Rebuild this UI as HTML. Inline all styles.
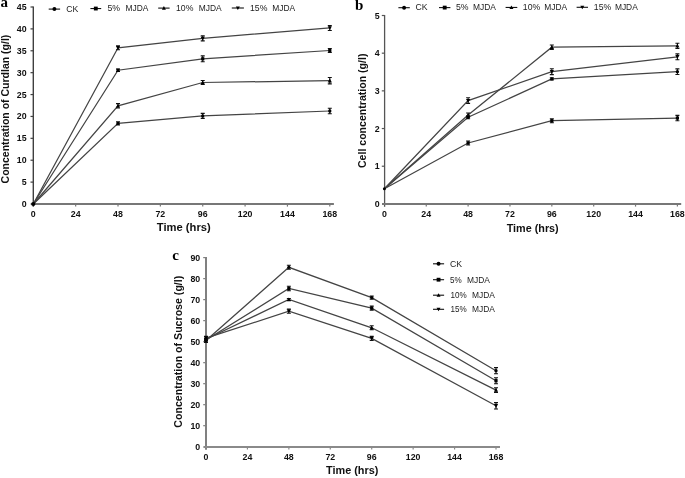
<!DOCTYPE html>
<html><head><meta charset="utf-8"><title>Figure</title>
<style>
html,body{margin:0;padding:0;background:#fff;width:685px;height:478px;overflow:hidden;font-family:"Liberation Sans",sans-serif;}
.wrap{position:relative;width:685px;height:478px;}
</style></head><body><div class="wrap">
<svg width="685" height="478" viewBox="0 0 685 478" style="position:absolute;left:0;top:0;filter:grayscale(1)">
<rect width="685" height="478" fill="#fff"/>
<path d="M33.30,6.50V206.80" stroke="#404040" stroke-width="1.4" fill="none"/>
<path d="M30.70,204.00H333.90" stroke="#777" stroke-width="2.0" fill="none"/>
<text x="26.60" y="207.00" font-family="Liberation Sans, sans-serif" font-size="8.8" font-weight="bold" text-anchor="end" fill="#111" >0</text>
<path d="M30.50,182.11H33.30" stroke="#404040" stroke-width="1.2"/>
<text x="26.60" y="185.11" font-family="Liberation Sans, sans-serif" font-size="8.8" font-weight="bold" text-anchor="end" fill="#111" >5</text>
<path d="M30.50,160.22H33.30" stroke="#404040" stroke-width="1.2"/>
<text x="26.60" y="163.22" font-family="Liberation Sans, sans-serif" font-size="8.8" font-weight="bold" text-anchor="end" fill="#111" >10</text>
<path d="M30.50,138.33H33.30" stroke="#404040" stroke-width="1.2"/>
<text x="26.60" y="141.33" font-family="Liberation Sans, sans-serif" font-size="8.8" font-weight="bold" text-anchor="end" fill="#111" >15</text>
<path d="M30.50,116.44H33.30" stroke="#404040" stroke-width="1.2"/>
<text x="26.60" y="119.44" font-family="Liberation Sans, sans-serif" font-size="8.8" font-weight="bold" text-anchor="end" fill="#111" >20</text>
<path d="M30.50,94.56H33.30" stroke="#404040" stroke-width="1.2"/>
<text x="26.60" y="97.56" font-family="Liberation Sans, sans-serif" font-size="8.8" font-weight="bold" text-anchor="end" fill="#111" >25</text>
<path d="M30.50,72.67H33.30" stroke="#404040" stroke-width="1.2"/>
<text x="26.60" y="75.67" font-family="Liberation Sans, sans-serif" font-size="8.8" font-weight="bold" text-anchor="end" fill="#111" >30</text>
<path d="M30.50,50.78H33.30" stroke="#404040" stroke-width="1.2"/>
<text x="26.60" y="53.78" font-family="Liberation Sans, sans-serif" font-size="8.8" font-weight="bold" text-anchor="end" fill="#111" >35</text>
<path d="M30.50,28.89H33.30" stroke="#404040" stroke-width="1.2"/>
<text x="26.60" y="31.89" font-family="Liberation Sans, sans-serif" font-size="8.8" font-weight="bold" text-anchor="end" fill="#111" >40</text>
<path d="M30.50,7.00H33.30" stroke="#404040" stroke-width="1.2"/>
<text x="26.60" y="10.00" font-family="Liberation Sans, sans-serif" font-size="8.8" font-weight="bold" text-anchor="end" fill="#111" >45</text>
<text x="33.30" y="217.20" font-family="Liberation Sans, sans-serif" font-size="8.8" font-weight="bold" text-anchor="middle" fill="#111" >0</text>
<path d="M75.66,204.00V206.60" stroke="#777" stroke-width="1.2"/>
<text x="75.66" y="217.20" font-family="Liberation Sans, sans-serif" font-size="8.8" font-weight="bold" text-anchor="middle" fill="#111" >24</text>
<path d="M118.01,204.00V206.60" stroke="#777" stroke-width="1.2"/>
<text x="118.01" y="217.20" font-family="Liberation Sans, sans-serif" font-size="8.8" font-weight="bold" text-anchor="middle" fill="#111" >48</text>
<path d="M160.37,204.00V206.60" stroke="#777" stroke-width="1.2"/>
<text x="160.37" y="217.20" font-family="Liberation Sans, sans-serif" font-size="8.8" font-weight="bold" text-anchor="middle" fill="#111" >72</text>
<path d="M202.73,204.00V206.60" stroke="#777" stroke-width="1.2"/>
<text x="202.73" y="217.20" font-family="Liberation Sans, sans-serif" font-size="8.8" font-weight="bold" text-anchor="middle" fill="#111" >96</text>
<path d="M245.09,204.00V206.60" stroke="#777" stroke-width="1.2"/>
<text x="245.09" y="217.20" font-family="Liberation Sans, sans-serif" font-size="8.8" font-weight="bold" text-anchor="middle" fill="#111" >120</text>
<path d="M287.44,204.00V206.60" stroke="#777" stroke-width="1.2"/>
<text x="287.44" y="217.20" font-family="Liberation Sans, sans-serif" font-size="8.8" font-weight="bold" text-anchor="middle" fill="#111" >144</text>
<path d="M329.80,204.00V206.60" stroke="#777" stroke-width="1.2"/>
<text x="329.80" y="217.20" font-family="Liberation Sans, sans-serif" font-size="8.8" font-weight="bold" text-anchor="middle" fill="#111" >168</text>
<path d="M33.30,204.00L118.01,123.40L202.73,115.90L329.80,111.00" stroke="#444" stroke-width="1.25" fill="none"/>
<path d="M33.30,204.00L118.01,105.80L202.73,82.50L329.80,80.70" stroke="#444" stroke-width="1.25" fill="none"/>
<path d="M33.30,204.00L118.01,70.25L202.73,58.80L329.80,50.50" stroke="#444" stroke-width="1.25" fill="none"/>
<path d="M33.30,204.00L118.01,47.80L202.73,38.35L329.80,27.95" stroke="#444" stroke-width="1.25" fill="none"/>
<path d="M118.01,121.90V124.90M116.01,121.90H120.01M116.01,124.90H120.01" stroke="#111" stroke-width="1.1" fill="none"/>
<circle cx="118.01" cy="123.40" r="1.65" fill="#000"/>
<path d="M202.73,113.40V118.40M200.73,113.40H204.73M200.73,118.40H204.73" stroke="#111" stroke-width="1.1" fill="none"/>
<circle cx="202.73" cy="115.90" r="1.65" fill="#000"/>
<path d="M329.80,108.20V113.80M327.80,108.20H331.80M327.80,113.80H331.80" stroke="#111" stroke-width="1.1" fill="none"/>
<circle cx="329.80" cy="111.00" r="1.65" fill="#000"/>
<path d="M118.01,103.60V108.00M116.01,103.60H120.01M116.01,108.00H120.01" stroke="#111" stroke-width="1.1" fill="none"/>
<path d="M115.91,107.48L120.11,107.48L118.01,103.70Z" fill="#000"/>
<path d="M202.73,80.50V84.50M200.73,80.50H204.73M200.73,84.50H204.73" stroke="#111" stroke-width="1.1" fill="none"/>
<path d="M200.63,84.18L204.83,84.18L202.73,80.40Z" fill="#000"/>
<path d="M329.80,77.50V83.90M327.80,77.50H331.80M327.80,83.90H331.80" stroke="#111" stroke-width="1.1" fill="none"/>
<path d="M327.70,82.38L331.90,82.38L329.80,78.60Z" fill="#000"/>
<path d="M118.01,69.05V71.45M116.01,69.05H120.01M116.01,71.45H120.01" stroke="#111" stroke-width="1.1" fill="none"/>
<rect x="116.41" y="68.65" width="3.20" height="3.20" fill="#000"/>
<path d="M202.73,55.90V61.70M200.73,55.90H204.73M200.73,61.70H204.73" stroke="#111" stroke-width="1.1" fill="none"/>
<rect x="201.13" y="57.20" width="3.20" height="3.20" fill="#000"/>
<path d="M329.80,48.50V52.50M327.80,48.50H331.80M327.80,52.50H331.80" stroke="#111" stroke-width="1.1" fill="none"/>
<rect x="328.20" y="48.90" width="3.20" height="3.20" fill="#000"/>
<path d="M118.01,45.80V49.80M116.01,45.80H120.01M116.01,49.80H120.01" stroke="#111" stroke-width="1.1" fill="none"/>
<path d="M115.91,46.12L120.11,46.12L118.01,49.90Z" fill="#000"/>
<path d="M202.73,35.85V40.85M200.73,35.85H204.73M200.73,40.85H204.73" stroke="#111" stroke-width="1.1" fill="none"/>
<path d="M200.63,36.67L204.83,36.67L202.73,40.45Z" fill="#000"/>
<path d="M329.80,25.45V30.45M327.80,25.45H331.80M327.80,30.45H331.80" stroke="#111" stroke-width="1.1" fill="none"/>
<path d="M327.70,26.27L331.90,26.27L329.80,30.05Z" fill="#000"/>
<circle cx="33.30" cy="204.00" r="2.1" fill="#000"/>
<text x="183.80" y="231.00" font-family="Liberation Sans, sans-serif" font-size="10.5" font-weight="bold" text-anchor="middle" fill="#111" textLength="54.0" lengthAdjust="spacingAndGlyphs">Time (hrs)</text>
<text x="0" y="0" transform="translate(9.00,109.05) rotate(-90)" font-family="Liberation Sans, sans-serif" font-size="10.5" font-weight="bold" text-anchor="middle" fill="#111" textLength="148.8" lengthAdjust="spacingAndGlyphs">Concentration of Curdlan (g/l)</text>
<path d="M384.60,15.00V206.80" stroke="#555" stroke-width="1.3" fill="none"/>
<path d="M382.00,204.00H681.20" stroke="#777" stroke-width="2.0" fill="none"/>
<text x="379.60" y="206.90" font-family="Liberation Sans, sans-serif" font-size="8.8" font-weight="bold" text-anchor="end" fill="#111" >0</text>
<path d="M381.80,166.22H384.60" stroke="#555" stroke-width="1.2"/>
<text x="379.60" y="169.22" font-family="Liberation Sans, sans-serif" font-size="8.8" font-weight="bold" text-anchor="end" fill="#111" >1</text>
<path d="M381.80,128.54H384.60" stroke="#555" stroke-width="1.2"/>
<text x="379.60" y="131.54" font-family="Liberation Sans, sans-serif" font-size="8.8" font-weight="bold" text-anchor="end" fill="#111" >2</text>
<path d="M381.80,90.86H384.60" stroke="#555" stroke-width="1.2"/>
<text x="379.60" y="93.86" font-family="Liberation Sans, sans-serif" font-size="8.8" font-weight="bold" text-anchor="end" fill="#111" >3</text>
<path d="M381.80,53.18H384.60" stroke="#555" stroke-width="1.2"/>
<text x="379.60" y="56.18" font-family="Liberation Sans, sans-serif" font-size="8.8" font-weight="bold" text-anchor="end" fill="#111" >4</text>
<path d="M381.80,15.50H384.60" stroke="#555" stroke-width="1.2"/>
<text x="379.60" y="18.50" font-family="Liberation Sans, sans-serif" font-size="8.8" font-weight="bold" text-anchor="end" fill="#111" >5</text>
<text x="384.40" y="217.20" font-family="Liberation Sans, sans-serif" font-size="8.8" font-weight="bold" text-anchor="middle" fill="#111" >0</text>
<path d="M426.26,204.00V206.60" stroke="#777" stroke-width="1.2"/>
<text x="426.26" y="217.20" font-family="Liberation Sans, sans-serif" font-size="8.8" font-weight="bold" text-anchor="middle" fill="#111" >24</text>
<path d="M468.11,204.00V206.60" stroke="#777" stroke-width="1.2"/>
<text x="468.11" y="217.20" font-family="Liberation Sans, sans-serif" font-size="8.8" font-weight="bold" text-anchor="middle" fill="#111" >48</text>
<path d="M509.97,204.00V206.60" stroke="#777" stroke-width="1.2"/>
<text x="509.97" y="217.20" font-family="Liberation Sans, sans-serif" font-size="8.8" font-weight="bold" text-anchor="middle" fill="#111" >72</text>
<path d="M551.83,204.00V206.60" stroke="#777" stroke-width="1.2"/>
<text x="551.83" y="217.20" font-family="Liberation Sans, sans-serif" font-size="8.8" font-weight="bold" text-anchor="middle" fill="#111" >96</text>
<path d="M593.69,204.00V206.60" stroke="#777" stroke-width="1.2"/>
<text x="593.69" y="217.20" font-family="Liberation Sans, sans-serif" font-size="8.8" font-weight="bold" text-anchor="middle" fill="#111" >120</text>
<path d="M635.54,204.00V206.60" stroke="#777" stroke-width="1.2"/>
<text x="635.54" y="217.20" font-family="Liberation Sans, sans-serif" font-size="8.8" font-weight="bold" text-anchor="middle" fill="#111" >144</text>
<path d="M677.40,204.00V206.60" stroke="#777" stroke-width="1.2"/>
<text x="677.40" y="217.20" font-family="Liberation Sans, sans-serif" font-size="8.8" font-weight="bold" text-anchor="middle" fill="#111" >168</text>
<path d="M384.40,188.80L468.11,143.00L551.83,120.70L677.40,118.05" stroke="#444" stroke-width="1.25" fill="none"/>
<path d="M384.40,188.80L468.11,115.00L551.83,47.20L677.40,45.90" stroke="#444" stroke-width="1.25" fill="none"/>
<path d="M384.40,188.80L468.11,117.30L551.83,78.90L677.40,71.70" stroke="#444" stroke-width="1.25" fill="none"/>
<path d="M384.40,188.80L468.11,100.60L551.83,71.70L677.40,56.80" stroke="#444" stroke-width="1.25" fill="none"/>
<path d="M468.11,141.00V145.00M466.11,141.00H470.11M466.11,145.00H470.11" stroke="#111" stroke-width="1.1" fill="none"/>
<rect x="466.51" y="141.40" width="3.20" height="3.20" fill="#000"/>
<path d="M551.83,118.70V122.70M549.83,118.70H553.83M549.83,122.70H553.83" stroke="#111" stroke-width="1.1" fill="none"/>
<rect x="550.23" y="119.10" width="3.20" height="3.20" fill="#000"/>
<path d="M677.40,115.35V120.75M675.40,115.35H679.40M675.40,120.75H679.40" stroke="#111" stroke-width="1.1" fill="none"/>
<rect x="675.80" y="116.45" width="3.20" height="3.20" fill="#000"/>
<path d="M468.11,113.00V117.00M466.11,113.00H470.11M466.11,117.00H470.11" stroke="#111" stroke-width="1.1" fill="none"/>
<path d="M466.01,116.68L470.21,116.68L468.11,112.90Z" fill="#000"/>
<path d="M551.83,45.00V49.40M549.83,45.00H553.83M549.83,49.40H553.83" stroke="#111" stroke-width="1.1" fill="none"/>
<path d="M549.73,48.88L553.93,48.88L551.83,45.10Z" fill="#000"/>
<path d="M677.40,43.30V48.50M675.40,43.30H679.40M675.40,48.50H679.40" stroke="#111" stroke-width="1.1" fill="none"/>
<path d="M675.30,47.58L679.50,47.58L677.40,43.80Z" fill="#000"/>
<path d="M468.11,115.80V118.80M466.11,115.80H470.11M466.11,118.80H470.11" stroke="#111" stroke-width="1.1" fill="none"/>
<circle cx="468.11" cy="117.30" r="1.65" fill="#000"/>
<path d="M551.83,77.90V79.90M549.83,77.90H553.83M549.83,79.90H553.83" stroke="#111" stroke-width="1.1" fill="none"/>
<circle cx="551.83" cy="78.90" r="1.65" fill="#000"/>
<path d="M677.40,68.90V74.50M675.40,68.90H679.40M675.40,74.50H679.40" stroke="#111" stroke-width="1.1" fill="none"/>
<circle cx="677.40" cy="71.70" r="1.65" fill="#000"/>
<path d="M468.11,97.80V103.40M466.11,97.80H470.11M466.11,103.40H470.11" stroke="#111" stroke-width="1.1" fill="none"/>
<path d="M466.01,98.92L470.21,98.92L468.11,102.70Z" fill="#000"/>
<path d="M551.83,68.80V74.60M549.83,68.80H553.83M549.83,74.60H553.83" stroke="#111" stroke-width="1.1" fill="none"/>
<path d="M549.73,70.02L553.93,70.02L551.83,73.80Z" fill="#000"/>
<path d="M677.40,53.90V59.70M675.40,53.90H679.40M675.40,59.70H679.40" stroke="#111" stroke-width="1.1" fill="none"/>
<path d="M675.30,55.12L679.50,55.12L677.40,58.90Z" fill="#000"/>
<circle cx="384.40" cy="188.80" r="1.5" fill="#000"/>
<text x="532.70" y="232.00" font-family="Liberation Sans, sans-serif" font-size="10.5" font-weight="bold" text-anchor="middle" fill="#111" textLength="52.0" lengthAdjust="spacingAndGlyphs">Time (hrs)</text>
<text x="0" y="0" transform="translate(365.70,110.80) rotate(-90)" font-family="Liberation Sans, sans-serif" font-size="10.5" font-weight="bold" text-anchor="middle" fill="#111" textLength="114.5" lengthAdjust="spacingAndGlyphs">Cell concentration (g/l)</text>
<path d="M206.00,257.10V449.70" stroke="#808080" stroke-width="2.0" fill="none"/>
<path d="M203.40,446.90H500.00" stroke="#8a8a8a" stroke-width="2.0" fill="none"/>
<text x="200.20" y="449.70" font-family="Liberation Sans, sans-serif" font-size="8.8" font-weight="bold" text-anchor="end" fill="#111" >0</text>
<path d="M203.20,425.69H206.00" stroke="#808080" stroke-width="1.2"/>
<text x="200.20" y="428.69" font-family="Liberation Sans, sans-serif" font-size="8.8" font-weight="bold" text-anchor="end" fill="#111" >10</text>
<path d="M203.20,404.68H206.00" stroke="#808080" stroke-width="1.2"/>
<text x="200.20" y="407.68" font-family="Liberation Sans, sans-serif" font-size="8.8" font-weight="bold" text-anchor="end" fill="#111" >20</text>
<path d="M203.20,383.67H206.00" stroke="#808080" stroke-width="1.2"/>
<text x="200.20" y="386.67" font-family="Liberation Sans, sans-serif" font-size="8.8" font-weight="bold" text-anchor="end" fill="#111" >30</text>
<path d="M203.20,362.66H206.00" stroke="#808080" stroke-width="1.2"/>
<text x="200.20" y="365.66" font-family="Liberation Sans, sans-serif" font-size="8.8" font-weight="bold" text-anchor="end" fill="#111" >40</text>
<path d="M203.20,341.64H206.00" stroke="#808080" stroke-width="1.2"/>
<text x="200.20" y="344.64" font-family="Liberation Sans, sans-serif" font-size="8.8" font-weight="bold" text-anchor="end" fill="#111" >50</text>
<path d="M203.20,320.63H206.00" stroke="#808080" stroke-width="1.2"/>
<text x="200.20" y="323.63" font-family="Liberation Sans, sans-serif" font-size="8.8" font-weight="bold" text-anchor="end" fill="#111" >60</text>
<path d="M203.20,299.62H206.00" stroke="#808080" stroke-width="1.2"/>
<text x="200.20" y="302.62" font-family="Liberation Sans, sans-serif" font-size="8.8" font-weight="bold" text-anchor="end" fill="#111" >70</text>
<path d="M203.20,278.61H206.00" stroke="#808080" stroke-width="1.2"/>
<text x="200.20" y="281.61" font-family="Liberation Sans, sans-serif" font-size="8.8" font-weight="bold" text-anchor="end" fill="#111" >80</text>
<path d="M203.20,257.60H206.00" stroke="#808080" stroke-width="1.2"/>
<text x="200.20" y="260.60" font-family="Liberation Sans, sans-serif" font-size="8.8" font-weight="bold" text-anchor="end" fill="#111" >90</text>
<text x="206.00" y="459.80" font-family="Liberation Sans, sans-serif" font-size="8.8" font-weight="bold" text-anchor="middle" fill="#111" >0</text>
<path d="M247.43,446.90V449.50" stroke="#8a8a8a" stroke-width="1.2"/>
<text x="247.43" y="459.80" font-family="Liberation Sans, sans-serif" font-size="8.8" font-weight="bold" text-anchor="middle" fill="#111" >24</text>
<path d="M288.86,446.90V449.50" stroke="#8a8a8a" stroke-width="1.2"/>
<text x="288.86" y="459.80" font-family="Liberation Sans, sans-serif" font-size="8.8" font-weight="bold" text-anchor="middle" fill="#111" >48</text>
<path d="M330.29,446.90V449.50" stroke="#8a8a8a" stroke-width="1.2"/>
<text x="330.29" y="459.80" font-family="Liberation Sans, sans-serif" font-size="8.8" font-weight="bold" text-anchor="middle" fill="#111" >72</text>
<path d="M371.71,446.90V449.50" stroke="#8a8a8a" stroke-width="1.2"/>
<text x="371.71" y="459.80" font-family="Liberation Sans, sans-serif" font-size="8.8" font-weight="bold" text-anchor="middle" fill="#111" >96</text>
<path d="M413.14,446.90V449.50" stroke="#8a8a8a" stroke-width="1.2"/>
<text x="413.14" y="459.80" font-family="Liberation Sans, sans-serif" font-size="8.8" font-weight="bold" text-anchor="middle" fill="#111" >120</text>
<path d="M454.57,446.90V449.50" stroke="#8a8a8a" stroke-width="1.2"/>
<text x="454.57" y="459.80" font-family="Liberation Sans, sans-serif" font-size="8.8" font-weight="bold" text-anchor="middle" fill="#111" >144</text>
<path d="M496.00,446.90V449.50" stroke="#8a8a8a" stroke-width="1.2"/>
<text x="496.00" y="459.80" font-family="Liberation Sans, sans-serif" font-size="8.8" font-weight="bold" text-anchor="middle" fill="#111" >168</text>
<path d="M206.00,340.50L288.86,267.30L371.71,297.60L496.00,370.70" stroke="#444" stroke-width="1.25" fill="none"/>
<path d="M206.00,340.00L288.86,288.50L371.71,308.10L496.00,380.70" stroke="#444" stroke-width="1.25" fill="none"/>
<path d="M206.00,339.30L288.86,299.50L371.71,327.80L496.00,390.10" stroke="#444" stroke-width="1.25" fill="none"/>
<path d="M206.00,338.20L288.86,311.20L371.71,338.40L496.00,405.80" stroke="#444" stroke-width="1.25" fill="none"/>
<path d="M206.00,338.50V342.50M204.00,338.50H208.00M204.00,342.50H208.00" stroke="#111" stroke-width="1.1" fill="none"/>
<circle cx="206.00" cy="340.50" r="1.65" fill="#000"/>
<path d="M288.86,265.30V269.30M286.86,265.30H290.86M286.86,269.30H290.86" stroke="#111" stroke-width="1.1" fill="none"/>
<circle cx="288.86" cy="267.30" r="1.65" fill="#000"/>
<path d="M371.71,296.10V299.10M369.71,296.10H373.71M369.71,299.10H373.71" stroke="#111" stroke-width="1.1" fill="none"/>
<circle cx="371.71" cy="297.60" r="1.65" fill="#000"/>
<path d="M496.00,367.60V373.80M494.00,367.60H498.00M494.00,373.80H498.00" stroke="#111" stroke-width="1.1" fill="none"/>
<circle cx="496.00" cy="370.70" r="1.65" fill="#000"/>
<path d="M206.00,339.00V341.00M204.00,339.00H208.00M204.00,341.00H208.00" stroke="#111" stroke-width="1.1" fill="none"/>
<rect x="204.40" y="338.40" width="3.20" height="3.20" fill="#000"/>
<path d="M288.86,286.30V290.70M286.86,286.30H290.86M286.86,290.70H290.86" stroke="#111" stroke-width="1.1" fill="none"/>
<rect x="287.26" y="286.90" width="3.20" height="3.20" fill="#000"/>
<path d="M371.71,306.10V310.10M369.71,306.10H373.71M369.71,310.10H373.71" stroke="#111" stroke-width="1.1" fill="none"/>
<rect x="370.11" y="306.50" width="3.20" height="3.20" fill="#000"/>
<path d="M496.00,377.70V383.70M494.00,377.70H498.00M494.00,383.70H498.00" stroke="#111" stroke-width="1.1" fill="none"/>
<rect x="494.40" y="379.10" width="3.20" height="3.20" fill="#000"/>
<path d="M206.00,338.30V340.30M204.00,338.30H208.00M204.00,340.30H208.00" stroke="#111" stroke-width="1.1" fill="none"/>
<path d="M203.90,340.98L208.10,340.98L206.00,337.20Z" fill="#000"/>
<path d="M288.86,298.50V300.50M286.86,298.50H290.86M286.86,300.50H290.86" stroke="#111" stroke-width="1.1" fill="none"/>
<path d="M286.76,301.18L290.96,301.18L288.86,297.40Z" fill="#000"/>
<path d="M371.71,325.80V329.80M369.71,325.80H373.71M369.71,329.80H373.71" stroke="#111" stroke-width="1.1" fill="none"/>
<path d="M369.61,329.48L373.81,329.48L371.71,325.70Z" fill="#000"/>
<path d="M496.00,387.70V392.50M494.00,387.70H498.00M494.00,392.50H498.00" stroke="#111" stroke-width="1.1" fill="none"/>
<path d="M493.90,391.78L498.10,391.78L496.00,388.00Z" fill="#000"/>
<path d="M206.00,336.40V340.00M204.00,336.40H208.00M204.00,340.00H208.00" stroke="#111" stroke-width="1.1" fill="none"/>
<path d="M203.90,336.52L208.10,336.52L206.00,340.30Z" fill="#000"/>
<path d="M288.86,309.10V313.30M286.86,309.10H290.86M286.86,313.30H290.86" stroke="#111" stroke-width="1.1" fill="none"/>
<path d="M286.76,309.52L290.96,309.52L288.86,313.30Z" fill="#000"/>
<path d="M371.71,336.40V340.40M369.71,336.40H373.71M369.71,340.40H373.71" stroke="#111" stroke-width="1.1" fill="none"/>
<path d="M369.61,336.72L373.81,336.72L371.71,340.50Z" fill="#000"/>
<path d="M496.00,402.60V409.00M494.00,402.60H498.00M494.00,409.00H498.00" stroke="#111" stroke-width="1.1" fill="none"/>
<path d="M493.90,404.12L498.10,404.12L496.00,407.90Z" fill="#000"/>
<text x="352.20" y="474.30" font-family="Liberation Sans, sans-serif" font-size="10.5" font-weight="bold" text-anchor="middle" fill="#111" textLength="52.3" lengthAdjust="spacingAndGlyphs">Time (hrs)</text>
<text x="0" y="0" transform="translate(182.20,351.70) rotate(-90)" font-family="Liberation Sans, sans-serif" font-size="10.5" font-weight="bold" text-anchor="middle" fill="#111" textLength="152.0" lengthAdjust="spacingAndGlyphs">Concentration of Sucrose (g/l)</text>
<text x="0.40" y="6.90" font-family="Liberation Serif, sans-serif" font-size="15" font-weight="bold" text-anchor="start" fill="#000" >a</text>
<text x="354.90" y="10.40" font-family="Liberation Serif, sans-serif" font-size="15" font-weight="bold" text-anchor="start" fill="#000" >b</text>
<text x="172.30" y="260.00" font-family="Liberation Serif, sans-serif" font-size="15" font-weight="bold" text-anchor="start" fill="#000" >c</text>
<path d="M48.70,9.10H60.10" stroke="#111" stroke-width="1.1"/>
<circle cx="54.40" cy="9.10" r="1.98" fill="#000"/>
<text x="66.20" y="11.80" font-family="Liberation Sans, sans-serif" font-size="8.7" font-weight="normal" text-anchor="start" fill="#1c1c1c" >CK</text>
<path d="M90.40,8.55H101.20" stroke="#111" stroke-width="1.1"/>
<rect x="93.88" y="6.63" width="3.84" height="3.84" fill="#000"/>
<text x="107.50" y="11.20" font-family="Liberation Sans, sans-serif" font-size="8.7" font-weight="normal" text-anchor="start" fill="#1c1c1c" >5%</text>
<text x="125.50" y="11.20" font-family="Liberation Sans, sans-serif" font-size="8.7" font-weight="normal" text-anchor="start" fill="#1c1c1c" textLength="22.9" lengthAdjust="spacingAndGlyphs">MJDA</text>
<path d="M158.20,8.10H169.60" stroke="#111" stroke-width="1.1"/>
<path d="M161.90,9.70L165.89,9.70L163.90,6.10Z" fill="#000"/>
<text x="176.00" y="11.10" font-family="Liberation Sans, sans-serif" font-size="8.7" font-weight="normal" text-anchor="start" fill="#1c1c1c" >10%</text>
<text x="198.70" y="11.10" font-family="Liberation Sans, sans-serif" font-size="8.7" font-weight="normal" text-anchor="start" fill="#1c1c1c" textLength="22.9" lengthAdjust="spacingAndGlyphs">MJDA</text>
<path d="M231.80,8.00H243.90" stroke="#111" stroke-width="1.1"/>
<path d="M235.86,6.40L239.85,6.40L237.85,9.99Z" fill="#000"/>
<text x="250.00" y="11.00" font-family="Liberation Sans, sans-serif" font-size="8.7" font-weight="normal" text-anchor="start" fill="#1c1c1c" >15%</text>
<text x="272.20" y="11.00" font-family="Liberation Sans, sans-serif" font-size="8.7" font-weight="normal" text-anchor="start" fill="#1c1c1c" textLength="22.9" lengthAdjust="spacingAndGlyphs">MJDA</text>
<path d="M398.40,7.70H409.80" stroke="#111" stroke-width="1.1"/>
<circle cx="404.10" cy="7.70" r="1.98" fill="#000"/>
<text x="415.60" y="10.20" font-family="Liberation Sans, sans-serif" font-size="8.7" font-weight="normal" text-anchor="start" fill="#1c1c1c" >CK</text>
<path d="M439.00,7.60H450.40" stroke="#111" stroke-width="1.1"/>
<rect x="442.78" y="5.68" width="3.84" height="3.84" fill="#000"/>
<text x="456.00" y="10.00" font-family="Liberation Sans, sans-serif" font-size="8.7" font-weight="normal" text-anchor="start" fill="#1c1c1c" >5%</text>
<text x="473.00" y="10.00" font-family="Liberation Sans, sans-serif" font-size="8.7" font-weight="normal" text-anchor="start" fill="#1c1c1c" textLength="22.9" lengthAdjust="spacingAndGlyphs">MJDA</text>
<path d="M505.60,7.45H517.30" stroke="#111" stroke-width="1.1"/>
<path d="M509.45,9.05L513.44,9.05L511.45,5.46Z" fill="#000"/>
<text x="522.80" y="9.90" font-family="Liberation Sans, sans-serif" font-size="8.7" font-weight="normal" text-anchor="start" fill="#1c1c1c" >10%</text>
<text x="544.20" y="9.90" font-family="Liberation Sans, sans-serif" font-size="8.7" font-weight="normal" text-anchor="start" fill="#1c1c1c" textLength="22.9" lengthAdjust="spacingAndGlyphs">MJDA</text>
<path d="M576.60,7.30H588.00" stroke="#111" stroke-width="1.1"/>
<path d="M580.30,5.70L584.29,5.70L582.30,9.29Z" fill="#000"/>
<text x="593.80" y="9.90" font-family="Liberation Sans, sans-serif" font-size="8.7" font-weight="normal" text-anchor="start" fill="#1c1c1c" >15%</text>
<text x="614.90" y="9.90" font-family="Liberation Sans, sans-serif" font-size="8.7" font-weight="normal" text-anchor="start" fill="#1c1c1c" textLength="22.9" lengthAdjust="spacingAndGlyphs">MJDA</text>
<path d="M433.00,263.80H444.10" stroke="#111" stroke-width="1.1"/>
<circle cx="438.55" cy="263.80" r="1.98" fill="#000"/>
<text x="450.10" y="266.60" font-family="Liberation Sans, sans-serif" font-size="8.7" font-weight="normal" text-anchor="start" fill="#1c1c1c" >CK</text>
<path d="M433.00,279.70H444.10" stroke="#111" stroke-width="1.1"/>
<rect x="436.63" y="277.78" width="3.84" height="3.84" fill="#000"/>
<text x="450.10" y="282.50" font-family="Liberation Sans, sans-serif" font-size="8.7" font-weight="normal" text-anchor="start" fill="#1c1c1c" textLength="11.7" lengthAdjust="spacingAndGlyphs">5%</text>
<text x="467.00" y="282.50" font-family="Liberation Sans, sans-serif" font-size="8.7" font-weight="normal" text-anchor="start" fill="#1c1c1c" textLength="22.9" lengthAdjust="spacingAndGlyphs">MJDA</text>
<path d="M433.00,295.20H444.10" stroke="#111" stroke-width="1.1"/>
<path d="M436.56,296.80L440.55,296.80L438.55,293.20Z" fill="#000"/>
<text x="450.50" y="298.00" font-family="Liberation Sans, sans-serif" font-size="8.7" font-weight="normal" text-anchor="start" fill="#1c1c1c" textLength="16.2" lengthAdjust="spacingAndGlyphs">10%</text>
<text x="472.00" y="298.00" font-family="Liberation Sans, sans-serif" font-size="8.7" font-weight="normal" text-anchor="start" fill="#1c1c1c" textLength="22.9" lengthAdjust="spacingAndGlyphs">MJDA</text>
<path d="M433.00,309.30H444.10" stroke="#111" stroke-width="1.1"/>
<path d="M436.56,307.70L440.55,307.70L438.55,311.30Z" fill="#000"/>
<text x="450.50" y="312.10" font-family="Liberation Sans, sans-serif" font-size="8.7" font-weight="normal" text-anchor="start" fill="#1c1c1c" textLength="16.2" lengthAdjust="spacingAndGlyphs">15%</text>
<text x="472.00" y="312.10" font-family="Liberation Sans, sans-serif" font-size="8.7" font-weight="normal" text-anchor="start" fill="#1c1c1c" textLength="22.9" lengthAdjust="spacingAndGlyphs">MJDA</text>
</svg>
</div></body></html>
